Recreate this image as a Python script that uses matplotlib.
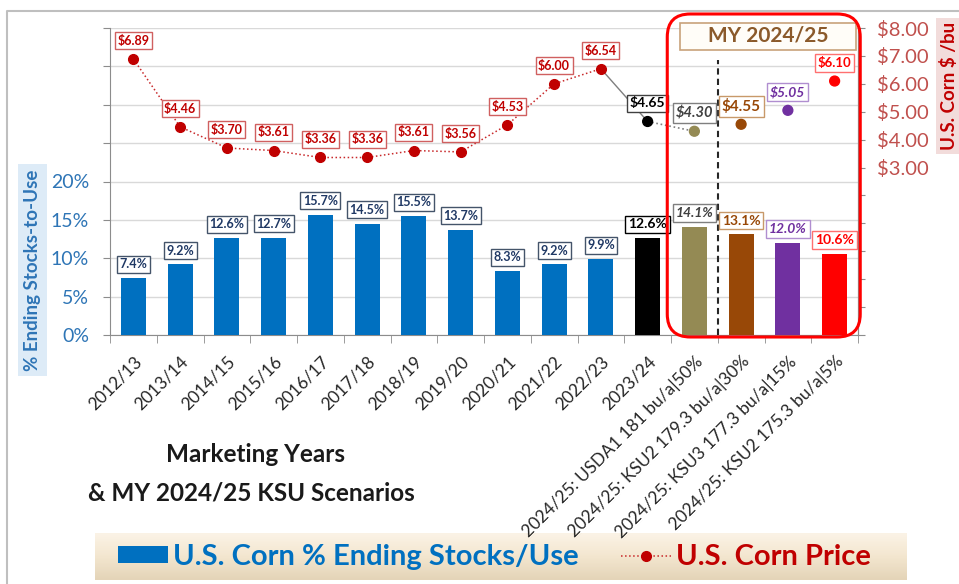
import numpy as np
import matplotlib
matplotlib.use("Agg")
import matplotlib.pyplot as plt
from matplotlib.patches import FancyBboxPatch, Rectangle
from matplotlib.lines import Line2D
from matplotlib.ticker import FuncFormatter, MultipleLocator
from matplotlib.colors import LinearSegmentedColormap
import matplotlib.transforms as mtransforms

plt.rcParams['font.family'] = ['Lato', 'DejaVu Sans']
plt.rcParams['text.parse_math'] = False

# ---- data ----
years = ["2012/13", "2013/14", "2014/15", "2015/16", "2016/17", "2017/18", "2018/19",
         "2019/20", "2020/21", "2021/22", "2022/23", "2023/24",
         "2024/25: USDA1 181 bu/a|50%", "2024/25: KSU2 179.3 bu/a|30%",
         "2024/25: KSU3 177.3 bu/a|15%", "2024/25: KSU2 175.3 bu/a|5%"]
stocks_use = [7.4, 9.2, 12.6, 12.7, 15.7, 14.5, 15.5, 13.7, 8.3, 9.2, 9.9, 12.6, 14.1, 13.1, 12.0, 10.6]
price = [6.89, 4.46, 3.70, 3.61, 3.36, 3.36, 3.61, 3.56, 4.53, 6.00, 6.54, 4.65, 4.30, 4.55, 5.05, 6.10]

bar_colors = ['#0070C0'] * 11 + ['#000000', '#948A54', '#984807', '#7030A0', '#FF0000']
# label styles: (text colour, edge colour, italic, size)
bar_lbl = [('#1F3864', '#44546A', False, 9)] * 11 + [
    ('#000000', '#000000', False, 10), ('#404040', '#7F7F7F', True, 10),
    ('#984807', '#C8996A', False, 10), ('#7030A0', '#B08ED0', True, 10),
    ('#FF0000', '#FF7070', False, 10)]
pt_colors = ['#C00000'] * 11 + ['#000000', '#948A54', '#984807', '#7030A0', '#FF0000']
pt_lbl = [('#C00000', '#D06060', False, 9)] * 11 + [
    ('#000000', '#404040', False, 10), ('#404040', '#7F7F7F', True, 10.5),
    ('#984807', '#C8996A', False, 11), ('#7030A0', '#B08ED0', True, 10),
    ('#FF0000', '#FF7070', False, 9.5)]

W, H = 959, 584
fig = plt.figure(figsize=(W / 100, H / 100), dpi=100)
ax = fig.add_axes([110 / W, 1 - 335 / H, (858 - 110) / W, (335 - 28) / H])
x = np.arange(len(years))

bars = ax.bar(x, stocks_use, width=0.53, color=bar_colors, zorder=3)
ax.set_xlim(-0.5, len(years) - 0.5)
ax.set_ylim(0, 40)
ax.yaxis.set_major_locator(MultipleLocator(5))
ax.yaxis.set_major_formatter(FuncFormatter(lambda v, p: f"{v:.0f}%" if v <= 20 else ""))
ax.grid(axis='y', color='#D9D9D9', lw=1)
ax.set_axisbelow(True)
ax.tick_params(axis='y', colors='#8C8C8C', labelcolor='#2E75B6', labelsize=14, length=5, pad=10)
ax.set_xticks(x)
ax.set_xticklabels(years, rotation=45, ha='right', rotation_mode='anchor',
                   fontsize=12.5, color='#262626')
ax.set_xticks(np.arange(-0.5, len(years), 1), minor=True)
ax.tick_params(axis='x', which='major', length=0, pad=13)
ax.tick_params(axis='x', which='minor', length=6, color='#8C8C8C')
ax.spines['top'].set_visible(False)
for s in ['left', 'bottom', 'right']:
    ax.spines[s].set_color('#8C8C8C')

for i, (v, (tc, ec, it, fs)) in enumerate(zip(stocks_use, bar_lbl)):
    ax.annotate(f"{v:.1f}%", (i, v), xytext=(0, 10), textcoords='offset points',
                ha='center', va='center', fontsize=fs, color=tc, fontweight='bold',
                style='italic' if it else 'normal', zorder=5,
                bbox=dict(boxstyle='square,pad=0.2', fc='white', ec=ec, lw=1))

ax.set_ylabel("% Ending Stocks-to-Use", color='#2E75B6', fontsize=13.5, fontweight='bold',
              bbox=dict(fc='#DDEBF7', ec='none', pad=4))
ax.yaxis.set_label_coords(-(110 - 41) / 748, (335 - 270) / 307)

# price axis
ax2 = ax.twinx()
ax2.set_ylim(-3, 8)
ax2.yaxis.set_major_locator(MultipleLocator(1))
ax2.yaxis.set_major_formatter(FuncFormatter(lambda v, p: f"${v:.2f}" if v >= 3 else ""))
ax2.tick_params(axis='y', colors='#8C8C8C', labelcolor='#C0504D', labelsize=14.5, length=5, pad=9)
for s in ['top', 'left', 'bottom']:
    ax2.spines[s].set_visible(False)
ax2.spines['right'].set_color('#8C8C8C')

hist = slice(0, 11)
price_line, = ax2.plot(x[hist], price[hist], ls=':', lw=1.1, color='#C8282A',
                       marker='o', mfc='#C00000', mec='#C00000', ms=7, zorder=4)
ax2.plot(x[10:12], price[10:12], ls='-', lw=1, color='#7F7F7F', zorder=3)
ax2.plot(x[11:13], price[11:13], ls=':', lw=1.2, color='#7F7F7F', zorder=3)
ax2.scatter(x[11:], price[11:], s=50, color=pt_colors[11:], zorder=4)

for i, (v, (tc, ec, it, fs)) in enumerate(zip(price, pt_lbl)):
    ax2.annotate(f"${v:.2f}", (i, v), xytext=(0, 13), textcoords='offset points',
                 ha='center', va='center', fontsize=fs, color=tc, fontweight='bold',
                 style='italic' if it else 'normal', zorder=5,
                 bbox=dict(boxstyle='square,pad=0.2', fc='white', ec=ec, lw=1))

ax2.set_ylabel("U.S. Corn $ /bu", color='#C00000', fontsize=13.5, fontweight='bold',
               bbox=dict(fc='#F2DCDB', ec='none', pad=3))
ax2.yaxis.set_label_coords((940 - 110) / 748, (335 - 86) / 307)

# scenario divider and MY 2024/25 box
ax.axvline(12.5, ymin=0, ymax=(335 - 60) / 307, color='#262626', ls=(0, (3, 2)), lw=1.5, zorder=4)
bt = mtransforms.blended_transform_factory(ax.transData, ax.transAxes)
ax.add_patch(Rectangle((11.69, (335 - 50) / 307), 15.46 - 11.69, 27 / 307, transform=bt,
                       fc='#FFFDF8', ec='#C8A27A', lw=1.2, clip_on=False, zorder=6))
ax.text((11.69 + 15.46) / 2, (335 - 36) / 307, "MY 2024/25", transform=bt, ha='center',
        va='center', fontsize=15, fontweight='bold', color='#8B5A2B', zorder=7)

# red rounded highlight box around the scenario columns
fig.canvas.draw()
p0 = ax.transData.transform((11.42, 0))
p1 = ax.transAxes.transform((1.003, 1))
x0, y0 = p0[0] / W, (p0[1] - 2) / H
x1, y1 = p1[0] / W, (p1[1] + 14) / H
fig.add_artist(FancyBboxPatch((x0, y0), x1 - x0, y1 - y0, transform=fig.transFigure,
                              boxstyle='round,pad=0,rounding_size=0.024',
                              mutation_aspect=W / H, fc='none', ec='#FF0000', lw=2.2, zorder=10))

# outer frame
fig.add_artist(Line2D([7 / W, 7 / W, 1], [0, 1 - 11 / H, 1 - 11 / H], color='#BFBFBF', lw=1.5))

# x axis caption
fig.text(256 / W, 1 - 455 / H, "Marketing Years", ha='center', va='center',
         fontsize=17.5, fontweight='bold', color='#1A1A1A')
fig.text(251 / W, 1 - 493 / H, "& MY 2024/25 KSU Scenarios", ha='center', va='center',
         fontsize=17.5, fontweight='bold', color='#1A1A1A')

# legend band
band = fig.add_axes([95 / W, 1 - 580 / H, (907 - 95) / W, 47 / H], zorder=-1)
grad = np.linspace(0, 1, 50)[:, None]
cm = LinearSegmentedColormap.from_list('band', ['#FBF3E6', '#F3E6CF', '#E4D4B8'])
band.imshow(grad, aspect='auto', cmap=cm, extent=(0, 1, 0, 1))
band.axis('off')

leg = fig.legend([bars, price_line], ["U.S. Corn % Ending Stocks/Use", "U.S. Corn Price"],
                 loc='center left', bbox_to_anchor=(118 / W, 1 - 557 / H), ncol=2,
                 frameon=False, borderpad=0, borderaxespad=0, handlelength=1.72,
                 handleheight=0.5, handletextpad=0.17, columnspacing=1.45,
                 prop={'size': 21, 'weight': 'bold'})
leg.get_texts()[0].set_color('#0070C0')
leg.get_texts()[1].set_color('#C00000')

fig.savefig("out.png", dpi=100)
